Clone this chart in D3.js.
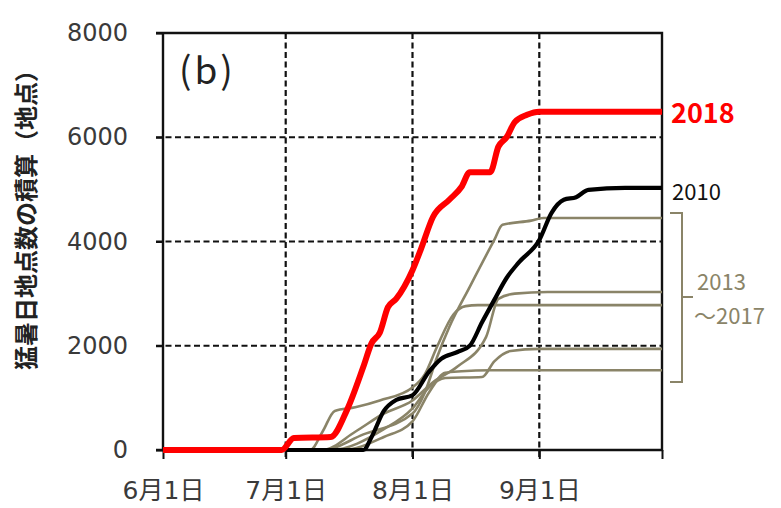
<!DOCTYPE html>
<html>
<head>
<meta charset="utf-8">
<script src="https://cdn.jsdelivr.net/npm/d3@7"></script>
<style>
  body { margin: 0; background: #fff; }
  svg text { font-family: "Noto Sans CJK JP", "Noto Sans", sans-serif; }
  svg .tick text { font-family: "DejaVu Sans", "Noto Sans CJK JP", sans-serif; }
</style>
</head>
<body>
<div id="chart"></div>
<script>
// x axis ticks (month/day) and their labels
const tickDates = ['6/1', '7/1', '8/1', '9/1', '10/1'];
const tickLabels = ['6月1日', '7月1日', '8月1日', '9月1日', ''];
const gridDates = ['7/1', '8/1', '9/1'];
const yTicks = [0, 2000, 4000, 6000, 8000];
const yGrid = [2000, 4000, 6000];

// 2018 (red)
const dates2018 = ['6/1', '6/30', '7/3', '7/12', '7/16', '7/20', '7/22', '7/24', '7/26', '7/28', '8/1', '8/3', '8/6', '8/10', '8/13', '8/15', '8/20', '8/22', '8/24', '8/26', '8/29', '9/1', '10/1'];
const values2018 = [0, 0, 230, 250, 770, 1600, 2050, 2250, 2740, 2900, 3450, 3840, 4470, 4800, 5050, 5330, 5330, 5820, 6000, 6290, 6430, 6490, 6490];

// 2010 (black)
const dates2010 = ['7/1', '7/20', '7/22', '7/25', '7/28', '8/1', '8/5', '8/8', '8/12', '8/15', '8/18', '8/21', '8/24', '8/27', '9/1', '9/4', '9/7', '9/10', '9/13', '9/22', '10/1'];
const values2010 = [0, 0, 250, 750, 960, 1050, 1500, 1750, 1880, 2000, 2450, 2880, 3300, 3600, 4030, 4550, 4800, 4850, 4990, 5030, 5030];

// 2013-2017 (grey)
const datesA = ['7/1', '7/10', '7/20', '8/1', '8/4', '8/7', '8/10', '8/15', '8/21', '8/23', '8/30', '9/2', '10/1'];
const valuesA = [0, 0, 300, 700, 1100, 1780, 2360, 3130, 4030, 4320, 4400, 4450, 4450];
const datesB = ['7/1', '7/10', '7/18', '7/25', '8/1', '8/6', '8/12', '8/19', '8/22', '8/26', '9/3', '10/1'];
const valuesB = [0, 0, 350, 700, 950, 1300, 1600, 2170, 2900, 3000, 3030, 3030];
const datesC = ['7/1', '7/7', '7/10', '7/13', '7/18', '7/24', '8/1', '8/4', '8/7', '8/11', '8/14', '8/17', '10/1'];
const valuesC = [0, 0, 350, 750, 820, 950, 1200, 1450, 1980, 2600, 2760, 2780, 2780];
const datesD = ['7/1', '7/12', '7/25', '8/1', '8/5', '8/9', '8/18', '8/21', '8/25', '9/1', '10/1'];
const valuesD = [0, 0, 400, 800, 1200, 1380, 1400, 1700, 1900, 1940, 1940];
const datesE = ['7/1', '7/15', '7/25', '8/1', '8/5', '8/9', '8/13', '8/20', '10/1'];
const valuesE = [0, 0, 250, 550, 1100, 1480, 1510, 1530, 1530];

const parseDay = d3.timeParse('%m/%d');

function toPoints(dates, values) {
    return dates.map(function(d, i) { return {date: parseDay(d), value: values[i]}; });
}

let w = 781, h = 508;
let margin = {top: 33, right: 119, bottom: 58, left: 163};

let svg = d3.select('#chart')
            .append('svg')
            .attr('width', w)
            .attr('height', h);

const xScale = d3.scaleTime()
  .domain([parseDay('6/1'), parseDay('10/1')])
  .range([margin.left, w - margin.right]);

const yScale = d3.scaleLinear()
  .domain([0, 8000])
  .range([h - margin.bottom, margin.top]);

let x0 = margin.left, x1 = w - margin.right;
let y0 = h - margin.bottom, y1 = margin.top;

// dashed grid
svg.selectAll('.hgrid')
   .data(yGrid)
   .enter()
   .append('line')
   .attr('x1', x0 - 7)
   .attr('x2', x1)
   .attr('y1', function(d) { return yScale(d); })
   .attr('y2', function(d) { return yScale(d); })
   .attr('stroke', '#111')
   .attr('stroke-width', 2.2)
   .attr('stroke-dasharray', '6,3.5');

svg.selectAll('.vgrid')
   .data(gridDates)
   .enter()
   .append('line')
   .attr('x1', function(d) { return xScale(parseDay(d)); })
   .attr('x2', function(d) { return xScale(parseDay(d)); })
   .attr('y1', y1)
   .attr('y2', y0 + 8)
   .attr('stroke', '#111')
   .attr('stroke-width', 2.2)
   .attr('stroke-dasharray', '6,3.5');

// axes
svg.append('g')
   .attr('transform', 'translate(' + x0 + ',0)')
   .call(d3.axisLeft(yScale).tickValues(yTicks).tickFormat(d3.format('d')).tickSize(7).tickPadding(28))
   .call(function(g) {
       g.select('.domain').remove();
       g.selectAll('line').attr('stroke', '#111').attr('stroke-width', 2);
       g.selectAll('text').attr('font-size', 24).attr('fill', '#3a3a3a');
   });

svg.append('g')
   .attr('transform', 'translate(0,' + y0 + ')')
   .call(d3.axisBottom(xScale)
           .tickValues(tickDates.map(parseDay))
           .tickFormat(function(d, i) { return tickLabels[i]; })
           .tickSize(9).tickPadding(22))
   .call(function(g) {
       g.select('.domain').remove();
       g.selectAll('line').attr('stroke', '#111').attr('stroke-width', 2);
       g.selectAll('text').attr('font-size', 25).attr('fill', '#3a3a3a');
   });

// frame
svg.append('path')
   .attr('d', 'M' + (x0 - 7) + ',' + y1 + 'H' + x1 + 'V' + y0 + 'H' + (x0 - 7) + 'M' + x0 + ',' + y1 + 'V' + y0)
   .attr('fill', 'none')
   .attr('stroke', '#111')
   .attr('stroke-width', 2.4);

let lineGenerator = d3.line()
                      .x(function(d) { return xScale(d.date); })
                      .y(function(d) { return yScale(d.value); })
                      .curve(d3.curveMonotoneX);

const greySeries = [[datesA, valuesA], [datesB, valuesB], [datesC, valuesC], [datesD, valuesD], [datesE, valuesE]];

svg.selectAll('.grey')
   .data(greySeries)
   .enter()
   .append('path')
   .attr('d', function(s) { return lineGenerator(toPoints(s[0], s[1])); })
   .attr('fill', 'none')
   .attr('stroke', '#8a8468')
   .attr('stroke-width', 2.6);

svg.append('path')
   .datum(toPoints(dates2010, values2010))
   .attr('d', lineGenerator)
   .attr('fill', 'none')
   .attr('stroke', '#000')
   .attr('stroke-width', 4.2);

svg.append('path')
   .datum(toPoints(dates2018, values2018))
   .attr('d', lineGenerator)
   .attr('fill', 'none')
   .attr('stroke', '#ff0000')
   .attr('stroke-width', 6);

// labels
svg.append('text')
   .attr('x', 179).attr('y', 84)
   .attr('font-size', 37)
   .attr('letter-spacing', 3)
   .attr('fill', '#222')
   .text('(b)');

svg.append('text')
   .attr('transform', 'translate(35,214) rotate(-90)')
   .attr('text-anchor', 'middle')
   .attr('font-size', 24)
   .attr('font-weight', 'bold')
   .attr('fill', '#222')
   .text('猛暑日地点数の積算（地点）');

svg.append('text')
   .attr('x', 671).attr('y', 123)
   .attr('font-size', 27)
   .attr('font-weight', 'bold')
   .attr('fill', '#ff0000')
   .text('2018');

svg.append('text')
   .attr('x', 672).attr('y', 200)
   .attr('font-size', 22)
   .attr('fill', '#111')
   .text('2010');

svg.append('path')
   .attr('d', 'M670,213H682V382H670M682,297H693')
   .attr('fill', 'none')
   .attr('stroke', '#8a8468')
   .attr('stroke-width', 2);

svg.append('text')
   .attr('x', 697).attr('y', 290)
   .attr('font-size', 22)
   .attr('fill', '#8a8468')
   .text('2013');

svg.append('text')
   .attr('x', 694).attr('y', 324)
   .attr('font-size', 22)
   .attr('fill', '#8a8468')
   .text('～2017');
</script>
</body>
</html>
